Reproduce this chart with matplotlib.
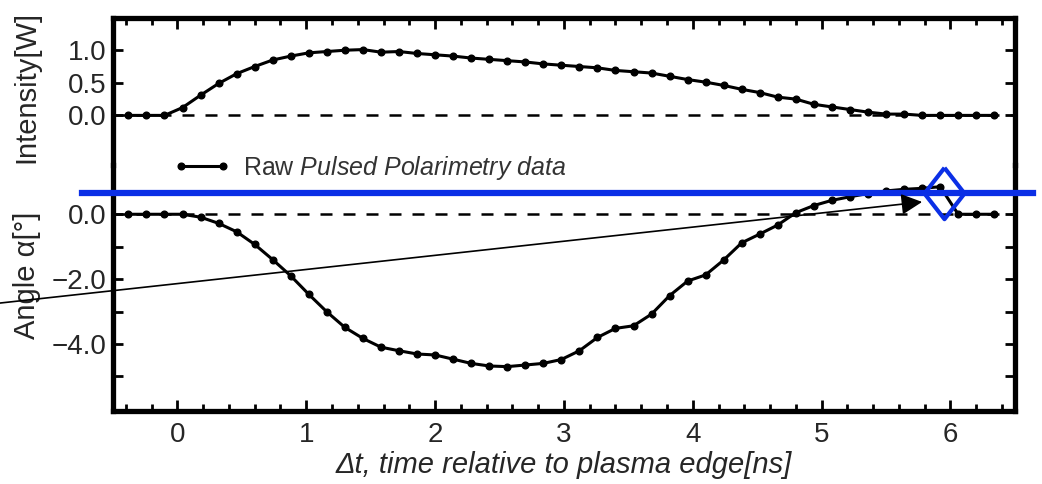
import numpy as np
import matplotlib
matplotlib.use('Agg')
import matplotlib.pyplot as plt
from matplotlib.ticker import MultipleLocator, FixedLocator

plt.rcParams['font.family'] = ['Liberation Sans', 'DejaVu Sans']
plt.rcParams['mathtext.fontset'] = 'custom'
plt.rcParams['mathtext.rm'] = 'Liberation Sans'
plt.rcParams['mathtext.it'] = 'Liberation Sans:italic'

# time axis [ns]
t = [-0.38, -0.24, -0.10, 0.04, 0.18, 0.32, 0.46, 0.60, 0.74, 0.88,
     1.02, 1.16, 1.30, 1.44, 1.58, 1.72, 1.86, 2.00, 2.14, 2.28,
     2.42, 2.56, 2.70, 2.84, 2.98, 3.12, 3.26, 3.40, 3.54, 3.68,
     3.82, 3.96, 4.10, 4.24, 4.38, 4.52, 4.66, 4.80, 4.94, 5.08,
     5.22, 5.36, 5.50, 5.64, 5.78, 5.92, 6.06, 6.20, 6.34]

intensity = [0, 0, 0, 0.12, 0.31, 0.49, 0.64, 0.75, 0.85, 0.91,
             0.96, 0.98, 1.00, 1.01, 0.97, 0.98, 0.95, 0.93, 0.91, 0.88,
             0.86, 0.84, 0.82, 0.79, 0.77, 0.75, 0.73, 0.69, 0.67, 0.65,
             0.60, 0.55, 0.51, 0.46, 0.40, 0.35, 0.28, 0.25, 0.17, 0.13,
             0.09, 0.05, 0.02, 0.02, 0, 0, 0, 0, 0]

angle = [0, 0, 0, 0, -0.09, -0.28, -0.54, -0.93, -1.40, -1.90,
         -2.47, -3.01, -3.49, -3.83, -4.10, -4.21, -4.31, -4.34, -4.47, -4.60,
         -4.68, -4.70, -4.65, -4.60, -4.48, -4.21, -3.80, -3.52, -3.44, -3.08,
         -2.51, -2.06, -1.87, -1.41, -0.88, -0.61, -0.33, 0.05, 0.27, 0.43,
         0.54, 0.64, 0.72, 0.77, 0.80, 0.85, 0, 0, 0]

int_ticks = [0.0, 0.5, 1.0]
ang_ticks = [-4.0, -2.0, 0.0]
ang_minor = [-5.0, -3.0, -1.0]

# overlay marks (added on top of the original figure)
mark_t, mark_angle = 5.95, 0.66
arrow_from = (-1.38, -2.74)
arrow_to = (5.78, 0.38)

blue = '#0b2fe6'
spine_w = 3.8
txt = '#262626'

fig = plt.figure(figsize=(10.42, 4.84), dpi=100)
ax1 = fig.add_axes([0.1084, 0.6591, 0.8656, 0.3031])
ax2 = fig.add_axes([0.1084, 0.1514, 0.8656, 0.5077], sharex=ax1)
for ax in (ax1, ax2):
    ax.set_facecolor('none')
    for s in ax.spines.values():
        s.set_linewidth(spine_w)

ax1.spines['bottom'].set_visible(False)
ax2.spines['top'].set_visible(False)

dash = (0, (4.8, 4.4))
ax1.axhline(0, color='k', lw=1.8, ls=dash, zorder=1)
ax2.axhline(0, color='k', lw=1.8, ls=dash, zorder=1)

line, = ax1.plot(t, intensity, color='k', lw=2.2, marker='o', ms=4.8, zorder=3)
ax2.plot(t, angle, color='k', lw=2.2, marker='o', ms=4.8, zorder=3)

ax1.set_xlim(-0.5, 6.5)
ax1.set_ylim(-0.761, 1.49)
ax2.set_ylim(-6.06, 1.52)

ax1.xaxis.set_major_locator(MultipleLocator(1))
ax1.xaxis.set_minor_locator(MultipleLocator(0.2))
ax1.set_yticks(int_ticks)
ax1.set_yticklabels(['%.1f' % v for v in int_ticks])
ax2.set_yticks(ang_ticks)
ax2.set_yticklabels([('%.1f' % v).replace('-', '\u2212') for v in ang_ticks])
ax2.yaxis.set_minor_locator(FixedLocator(ang_minor))

ax1.tick_params(axis='x', which='both', direction='in', top=True, bottom=False,
                labelbottom=False, width=2)
ax1.tick_params(axis='x', which='major', length=8)
ax1.tick_params(axis='x', which='minor', length=5)
ax2.tick_params(axis='x', which='both', direction='in', top=False, bottom=True,
                width=2, labelsize=20, pad=8, labelcolor=txt)
ax2.tick_params(axis='x', which='major', length=8)
ax2.tick_params(axis='x', which='minor', length=5)
for ax in (ax1, ax2):
    ax.tick_params(axis='y', which='both', direction='in', left=True, right=True,
                   width=2, length=7, labelsize=20, pad=5, labelcolor=txt)

ax1.set_ylabel('Intensity[W]', fontsize=21, color=txt)
ax2.set_ylabel('Angle \u03b1[\u00b0]', fontsize=21, color=txt)
ax1.yaxis.set_label_coords(-0.08, 0.53)
ax2.yaxis.set_label_coords(-0.08, 0.55)
ax2.set_xlabel('\u0394t, time relative to plasma edge[ns]', fontsize=21,
               style='italic', color=txt, labelpad=2)

ax2.legend([line], ['Raw $\\it{Pulsed\\ Polarimetry\\ data}$'],
           loc='center left', bbox_to_anchor=(173 / 1042, 1 - 168 / 484),
           bbox_transform=fig.transFigure, frameon=False, fontsize=18,
           numpoints=2, handlelength=2.3, handletextpad=0.5,
           borderpad=0, borderaxespad=0, labelcolor='#333333')

# overlay: blue marker line, diamond and arrow
ax2.axhline(mark_angle, xmin=-0.034, xmax=1.02, color=blue, lw=4.5,
            clip_on=False, zorder=10)
diamond = [(0, 1), (0.78, 0), (0, -1), (-0.78, 0), (0, 1)]
ax2.plot([mark_t], [mark_angle], marker=diamond, ms=37, mfc='none',
         mec=blue, mew=3, clip_on=False, zorder=11)
ax2.annotate('', xy=arrow_to, xytext=arrow_from, xycoords='data',
             textcoords='data', annotation_clip=False,
             arrowprops=dict(arrowstyle='-|>', color='k', lw=1.2,
                             mutation_scale=32, shrinkA=0, shrinkB=0),
             zorder=12)

fig.savefig('out.png', dpi=100)
